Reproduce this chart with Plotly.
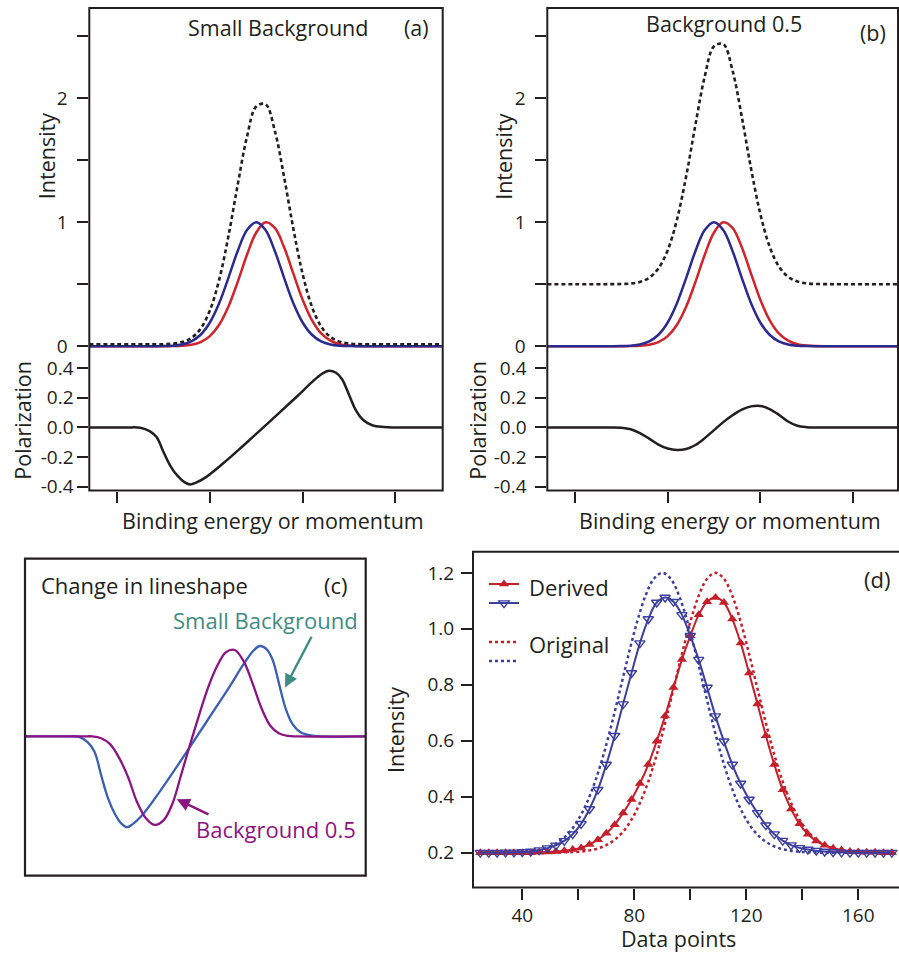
import plotly.graph_objects as go

# ---------------- data ----------------
# Panels (a) and (b): intensity curves, x in arbitrary "binding energy" units
X_INT = [-3.6, -3.0, -2.4, -2.2, -2.0, -1.8, -1.6, -1.4, -1.2, -1.0, -0.8, -0.6, -0.4, -0.2,
         0.0, 0.2, 0.4, 0.6, 0.8, 1.0, 1.2, 1.4, 1.6, 1.8, 2.0, 2.2, 2.4, 2.6, 3.2, 4.0]
BLUE_INT = [0, 0, 0.0001, 0.0003, 0.0013, 0.0047, 0.0145, 0.0392, 0.0926, 0.1915, 0.347, 0.5515,
            0.7676, 0.936, 1.0, 0.936, 0.7676, 0.5515, 0.347, 0.1915, 0.0926, 0.0392, 0.0145,
            0.0047, 0.0013, 0.0003, 0.0001, 0, 0, 0]
RED_INT = [0, 0, 0, 0.0001, 0.0003, 0.0011, 0.0039, 0.0124, 0.034, 0.082, 0.1731, 0.3202, 0.519,
           0.7367, 0.9163, 0.9985, 0.9533, 0.7975, 0.5845, 0.3753, 0.2112, 0.1041, 0.045, 0.017,
           0.0056, 0.0016, 0.0004, 0.0001, 0, 0]
SUM_SMALL_BG = [0.015, 0.015, 0.0151, 0.0154, 0.0166, 0.0208, 0.0334, 0.0666, 0.1416, 0.2885,
                0.5351, 0.8867, 1.3016, 1.6877, 1.9313, 1.9495, 1.7359, 1.364, 0.9465, 0.5818,
                0.3188, 0.1583, 0.0745, 0.0367, 0.0219, 0.0169, 0.0155, 0.0151, 0.015, 0.015]
SUM_BG_05 = [0.5, 0.5, 0.5001, 0.5004, 0.5016, 0.5058, 0.5184, 0.5516, 0.6266, 0.7735, 1.0201,
             1.3717, 1.7866, 2.1727, 2.4163, 2.4345, 2.2209, 1.849, 1.4315, 1.0668, 0.8038,
             0.6433, 0.5595, 0.5217, 0.5069, 0.5019, 0.5005, 0.5001, 0.5, 0.5]

# Polarization, small background (panel a, also blue curve of panel c)
X_POL_A = [-3.75, -2.8, -2.5, -2.3, -2.15, -2.0, -1.85, -1.7, -1.55, -1.42, -1.3, -1.1, -0.7,
           -0.3, 0.1, 0.5, 0.9, 1.2, 1.42, 1.57, 1.72, 1.85, 2.0, 2.15, 2.3, 2.5, 2.75, 3.0, 4.05]
POL_A = [0, 0, -0.002, -0.025, -0.065, -0.165, -0.26, -0.325, -0.368, -0.384, -0.372, -0.338,
         -0.238, -0.128, -0.015, 0.1, 0.215, 0.305, 0.362, 0.382, 0.368, 0.325, 0.22, 0.115,
         0.052, 0.015, 0.003, 0, 0]

# Polarization, background 0.5 (panel b)
X_POL_B = [-3.75, -2.4, -2.2, -2.0, -1.8, -1.6, -1.4, -1.2, -1.0, -0.8, -0.6, -0.4, -0.2, 0.0,
           0.2, 0.4, 0.6, 0.8, 1.0, 1.2, 1.4, 1.6, 1.8, 2.0, 2.2, 2.4, 4.05]
POL_B = [0, 0, 0, -0.002, -0.012, -0.038, -0.075, -0.115, -0.142, -0.152, -0.145, -0.118,
         -0.072, -0.018, 0.036, 0.082, 0.12, 0.142, 0.145, 0.124, 0.086, 0.04, 0.011, 0.002,
         0, 0, 0]

# Panel (c): background 0.5 lineshape, rescaled for comparison
X_POL_C = [-3.75, -2.4, -2.2, -2.0, -1.8, -1.6, -1.4, -1.2, -1.0, -0.8, -0.6, -0.4, -0.2, 0.0,
           0.2, 0.4, 0.6, 0.8, 1.0, 1.2, 1.4, 1.6, 1.8, 2.0, 2.2, 2.4, 4.05]
POL_C = [0, 0, 0, -0.008, -0.033, -0.09, -0.17, -0.275, -0.345, -0.374, -0.355, -0.285, -0.16,
         -0.033, 0.09, 0.205, 0.295, 0.355, 0.365, 0.318, 0.225, 0.12, 0.045, 0.012, 0.002, 0, 0]

# Panel (d): data points
X_DERIVED = [25, 28, 31, 34, 37, 40, 43, 46, 49, 52, 55, 58, 61, 64, 67, 70, 73, 76, 79, 82, 85,
             88, 91, 94, 97, 100, 103, 106, 109, 112, 115, 118, 121, 124, 127, 130, 133, 136, 139,
             142, 145, 148, 151, 154, 157, 160, 163, 166, 169, 172]
DERIVED_BLUE = [0.2, 0.2, 0.2, 0.201, 0.201, 0.202, 0.204, 0.209, 0.216, 0.226, 0.242, 0.266,
                0.303, 0.356, 0.425, 0.515, 0.618, 0.731, 0.842, 0.949, 1.035, 1.094, 1.112,
                1.097, 1.05, 0.975, 0.89, 0.79, 0.688, 0.598, 0.515, 0.447, 0.39, 0.342, 0.298,
                0.266, 0.243, 0.227, 0.217, 0.211, 0.207, 0.204, 0.202, 0.201, 0.2, 0.2, 0.2,
                0.2, 0.2, 0.2]
DERIVED_RED = [0.2, 0.2, 0.2, 0.2, 0.2, 0.2, 0.2, 0.201, 0.202, 0.204, 0.207, 0.211, 0.217,
               0.229, 0.246, 0.269, 0.3, 0.342, 0.39, 0.447, 0.515, 0.598, 0.688, 0.79, 0.89,
               0.975, 1.05, 1.097, 1.112, 1.094, 1.035, 0.949, 0.842, 0.731, 0.618, 0.515,
               0.425, 0.356, 0.303, 0.266, 0.242, 0.226, 0.216, 0.209, 0.204, 0.202, 0.201,
               0.201, 0.2, 0.2]
X_ORIG_BLUE = [24, 27, 30, 33, 36, 39, 42, 45, 48, 51, 54, 57, 60, 63, 66, 69, 72, 75, 78, 81, 84,
               87, 90, 93, 96, 99, 102, 105, 108, 111, 114, 117, 120, 123, 126, 129, 132, 135,
               138, 141, 144, 147, 150, 153, 156, 159, 162, 165, 168, 171, 174]
ORIG_BLUE = [0.2, 0.2, 0.2, 0.2, 0.201, 0.202, 0.204, 0.208, 0.215, 0.227, 0.246, 0.275, 0.318,
             0.377, 0.454, 0.55, 0.663, 0.786, 0.91, 1.025, 1.118, 1.179, 1.2, 1.179, 1.118,
             1.025, 0.91, 0.786, 0.663, 0.55, 0.454, 0.377, 0.318, 0.275, 0.246, 0.227, 0.215,
             0.208, 0.204, 0.202, 0.201, 0.2, 0.2, 0.2, 0.2, 0.2, 0.2, 0.2, 0.2, 0.2, 0.2]
X_ORIG_RED = X_DERIVED
ORIG_RED = [0.2, 0.2, 0.2, 0.2, 0.2, 0.2, 0.2, 0.2, 0.2, 0.2, 0.201, 0.202, 0.204, 0.208, 0.215,
            0.227, 0.246, 0.275, 0.318, 0.377, 0.454, 0.55, 0.663, 0.786, 0.91, 1.025, 1.118,
            1.179, 1.2, 1.179, 1.118, 1.025, 0.91, 0.786, 0.663, 0.55, 0.454, 0.377, 0.318,
            0.275, 0.246, 0.227, 0.215, 0.208, 0.204, 0.202, 0.201, 0.2, 0.2, 0.2]

INT_TICKS = [0, 0.5, 1, 1.5, 2, 2.5]
INT_TICKTEXT = ["0", "", "1", "", "2", ""]
POL_TICKS = [-0.4, -0.2, 0.0, 0.2, 0.4]
POL_TICKTEXT = ["-0.4", "-0.2", "0.0", "0.2", "0.4"]
BE_TICKS = [-3, -1, 1, 3]
D_XTICKS = [40, 60, 80, 100, 120, 140, 160]
D_XTICKTEXT = ["40", "", "80", "", "120", "", "160"]
D_YTICKS = [0.2, 0.4, 0.6, 0.8, 1.0, 1.2]
D_YTICKTEXT = ["0.2", "0.4", "0.6", "0.8", "1.0", "1.2"]

# ---------------- styling ----------------
W, H = 899, 960
def PX(x):
    return x / W
def PY(y):
    return 1 - y / H

INK = "#231f20"
FONT = "Open Sans"
RED = "#d0242b"
NAVY = "#2b2a8f"
BLUE_C = "#3b5fb4"
PURPLE = "#8c1482"
TEAL = "#3e8c84"
D_RED = "#c41f2a"
D_BLUE = "#3b3f9f"

fig = go.Figure()

def line_trace(x, y, xa, ya, color, width=2.5, dash="solid", name=""):
    return go.Scatter(x=x, y=y, xaxis=xa, yaxis=ya, mode="lines", showlegend=False,
                      line=dict(color=color, width=width, dash=dash, shape="spline", smoothing=1),
                      hoverinfo="skip", name=name)

# panel (a)
fig.add_trace(line_trace(X_INT, RED_INT, "x", "y", RED))
fig.add_trace(line_trace(X_INT, BLUE_INT, "x", "y", NAVY))
fig.add_trace(line_trace(X_INT, SUM_SMALL_BG, "x", "y", INK, 2.6, "4px,3px"))
fig.add_trace(line_trace(X_POL_A, POL_A, "x", "y2", INK, 2.5))
# panel (b)
fig.add_trace(line_trace(X_INT, RED_INT, "x2", "y3", RED))
fig.add_trace(line_trace(X_INT, BLUE_INT, "x2", "y3", NAVY))
fig.add_trace(line_trace(X_INT, SUM_BG_05, "x2", "y3", INK, 2.6, "4px,3px"))
fig.add_trace(line_trace(X_POL_B, POL_B, "x2", "y4", INK, 2.5))
# panel (c)
fig.add_trace(line_trace(X_POL_A, POL_A, "x3", "y5", BLUE_C, 2.3))
fig.add_trace(line_trace(X_POL_C, POL_C, "x3", "y5", PURPLE, 2.3))
# panel (d)
fig.add_trace(go.Scatter(x=X_ORIG_RED, y=ORIG_RED, xaxis="x4", yaxis="y6", mode="lines",
                         line=dict(color=D_RED, width=2.5, dash="3px,3px", shape="spline"),
                         name=" ", legendgroup="orig", legendrank=3, hoverinfo="skip"))
fig.add_trace(go.Scatter(x=X_ORIG_BLUE, y=ORIG_BLUE, xaxis="x4", yaxis="y6", mode="lines",
                         line=dict(color=D_BLUE, width=2.5, dash="3px,3px", shape="spline"),
                         name=" ", legendgroup="orig", legendrank=4, hoverinfo="skip"))
fig.add_trace(go.Scatter(x=X_DERIVED, y=DERIVED_RED, xaxis="x4", yaxis="y6", mode="lines+markers",
                         line=dict(color=D_RED, width=2, shape="spline"),
                         marker=dict(symbol="triangle-up", size=9, color=D_RED),
                         name=" ", legendgroup="der", legendrank=1, hoverinfo="skip"))
fig.add_trace(go.Scatter(x=X_DERIVED, y=DERIVED_BLUE, xaxis="x4", yaxis="y6", mode="lines+markers",
                         line=dict(color=D_BLUE, width=2, shape="spline"),
                         marker=dict(symbol="triangle-down-open", size=9, color=D_BLUE,
                                     line=dict(width=1.4, color=D_BLUE)),
                         name=" ", legendgroup="der", legendrank=2, hoverinfo="skip"))

tickfont = dict(family=FONT, size=19, color=INK)
common_tick = dict(ticks="outside", ticklen=11, tickwidth=2, tickcolor=INK, showgrid=False,
                   zeroline=False, showline=False, tickfont=tickfont)

INT_TOP = (349.5 - 8) / 125.3
layout_axes = dict(
    xaxis=dict(domain=[PX(89.3), PX(442.7)], range=[-3.6, 4.02], anchor="y2", tickvals=BE_TICKS,
               showticklabels=False, **common_tick),
    yaxis=dict(domain=[PY(353.3), PY(8)], range=[-0.03, INT_TOP], anchor="x", tickvals=INT_TICKS,
               ticktext=INT_TICKTEXT, ticklabelstandoff=6, **common_tick),
    yaxis2=dict(domain=[PY(495.2), PY(349.5)], range=[-0.425, 0.547], anchor="x",
                tickvals=POL_TICKS, ticktext=POL_TICKTEXT, ticklabelstandoff=0, **common_tick),
    xaxis2=dict(domain=[PX(547.3), PX(898.3)], range=[-3.6, 3.98], anchor="y4", tickvals=BE_TICKS,
                showticklabels=False, **common_tick),
    yaxis3=dict(domain=[PY(353.3), PY(8)], range=[-0.03, INT_TOP], anchor="x2",
                tickvals=INT_TICKS, ticktext=INT_TICKTEXT, ticklabelstandoff=6, **common_tick),
    yaxis4=dict(domain=[PY(495.2), PY(349.5)], range=[-0.425, 0.547], anchor="x2",
                tickvals=POL_TICKS, ticktext=POL_TICKTEXT, ticklabelstandoff=5, **common_tick),
    xaxis3=dict(domain=[PX(25), PX(365.7)], range=[-3.712, 3.944], anchor="y5", visible=False),
    yaxis5=dict(domain=[PY(884), PY(564)], range=[-0.589, 0.751], anchor="x3", visible=False),
    xaxis4=dict(domain=[PX(473), 1.0], range=[22.39, 174.54], anchor="y6", tickvals=D_XTICKS,
                ticktext=D_XTICKTEXT, **common_tick),
    yaxis6=dict(domain=[PY(896), PY(557)], range=[0.075, 1.2754], anchor="x4",
                tickvals=D_YTICKS, ticktext=D_YTICKTEXT, ticklabelstandoff=3, **common_tick),
)

def frame(x0, y0, x1, y1, w=2):
    return dict(type="rect", xref="paper", yref="paper", x0=PX(x0), x1=PX(x1), y0=PY(y1),
                y1=PY(y0), line=dict(color=INK, width=w), fillcolor="rgba(0,0,0,0)", layer="above")

shapes = [
    frame(89.3, 8, 442.7, 495.2),
    frame(547.3, 8, 898.0, 495.2),
    frame(25, 564, 365.7, 884, 2.2),
    frame(473, 557, 910, 896),
]

def ann(text, x, y, size=21.5, color=INK, xanchor="center", angle=0):
    return dict(text=text, x=PX(x), y=PY(y), xref="paper", yref="paper", showarrow=False,
                xanchor=xanchor, yanchor="middle", textangle=angle,
                font=dict(family=FONT, size=size, color=color))

annotations = [
    ann("Small Background", 278, 27.5),
    ann("(a)", 416, 27.5),
    ann("Intensity", 46.7, 158, angle=-90),
    ann("Polarization", 21.7, 424, angle=-90),
    ann("Binding energy or momentum", 273.3, 525),
    ann("Background 0.5", 723.8, 24),
    ann("(b)", 872.8, 32.7),
    ann("Intensity", 503.3, 158, angle=-90),
    ann("Polarization", 476.7, 424, angle=-90),
    ann("Binding energy or momentum", 730, 525),
    ann("Change in lineshape", 39.3, 591, size=22, xanchor="left"),
    ann("(c)", 336, 591, size=22),
    ann("Small Background", 265, 626, size=22, color=TEAL),
    ann("Background 0.5", 275.5, 837, size=22, color=PURPLE),
    ann("(d)", 876.7, 584, size=22),
    ann("Derived", 526.7, 593, size=22, xanchor="left"),
    ann("Original", 526.7, 650, size=22, xanchor="left"),
    ann("Intensity", 395, 737, angle=-90),
    ann("Data points", 678, 947),
    # arrows in panel (c)
    dict(text="", x=PX(285), y=PY(694), xref="paper", yref="paper", showarrow=True,
         ax=27.3, ay=-52.3, arrowhead=2, arrowsize=1.1, arrowwidth=2.4, arrowcolor=TEAL),
    dict(text="", x=PX(176.7), y=PY(806.7), xref="paper", yref="paper", showarrow=True,
         ax=33.3, ay=16, arrowhead=2, arrowsize=1.1, arrowwidth=2.4, arrowcolor=PURPLE),
]

fig.update_layout(
    width=W, height=H, autosize=False,
    margin=dict(l=0, r=0, t=0, b=0),
    paper_bgcolor="white", plot_bgcolor="rgba(0,0,0,0)",
    font=dict(family=FONT, color=INK),
    shapes=shapes, annotations=annotations,
    showlegend=True,
    legend=dict(x=PX(484), y=PY(575), xanchor="left", yanchor="top", bgcolor="rgba(0,0,0,0)",
                borderwidth=0, font=dict(size=12, family=FONT), tracegroupgap=20,
                traceorder="grouped", itemclick=False, itemdoubleclick=False),
    hovermode=False,
    **layout_axes,
)

fig.write_html("out.html", config={"displayModeBar": False, "staticPlot": True},
               post_script="document.body.style.margin='0';document.body.style.overflow='hidden';")
